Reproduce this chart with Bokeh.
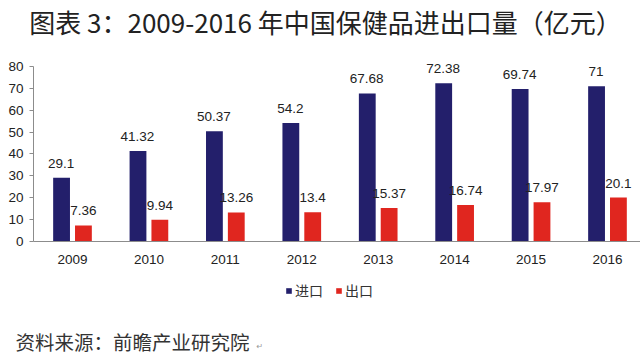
from bokeh.plotting import figure
from bokeh.models import (ColumnDataSource, Range1d, FixedTicker, Label, LabelSet, Legend,
                          LegendItem, LinearAxis)
from bokeh.core.properties import value
from bokeh.transform import dodge
from bokeh.embed import file_html
from bokeh.resources import INLINE

years = [2009, 2010, 2011, 2012, 2013, 2014, 2015, 2016]
imports = [29.1, 41.32, 50.37, 54.2, 67.68, 72.38, 69.74, 71]
exports = [7.36, 9.94, 13.26, 13.4, 15.37, 16.74, 17.97, 20.1]
y_ticks = [0, 10, 20, 30, 40, 50, 60, 70, 80]
title_text = "图表 3：2009-2016 年中国保健品进出口量（亿元）"
source_text = "资料来源：前瞻产业研究院"
series_names = ["进口", "出口"]

NAVY = "#231F6B"
RED = "#E0261F"
AXIS = "#8c8c8c"

src = ColumnDataSource(dict(
    year=years, imp=imports, exp=exports,
    imp_lbl=[f"{v:g}" for v in imports],
    exp_lbl=[f"{v:g}" for v in exports],
))

# the frame covers the whole canvas; axes are pinned inside it
X0, X1 = 2008.058, 2016.432
p = figure(width=640, height=357, output_backend="svg", toolbar_location=None,
           x_range=Range1d(X0, X1), y_range=Range1d(-53.03, 110.17),
           x_axis_location=None, y_axis_location=None,
           min_border_left=0, min_border_right=0, min_border_top=0, min_border_bottom=0)
p.outline_line_color = None
p.xgrid.grid_line_color = None
p.ygrid.grid_line_color = None
p.background_fill_color = "white"
p.border_fill_color = "white"

r1 = p.vbar(x=dodge("year", -0.143), top="imp", width=0.22, source=src, fill_color=NAVY, line_color=None)
r2 = p.vbar(x=dodge("year", 0.143), top="exp", width=0.22, source=src, fill_color=RED, line_color=None)

lbl_style = dict(text_align="center", text_baseline="bottom", text_font=value("Liberation Sans"),
                 text_font_size=value("13.5px"), text_color="#222222", y_offset=10)
p.add_layout(LabelSet(x=dodge("year", -0.15), y="imp", text="imp_lbl", source=src, **lbl_style))
p.add_layout(LabelSet(x=dodge("year", 0.143), y="exp", text="exp_lbl", source=src, **lbl_style))

xaxis = LinearAxis(fixed_location=0, bounds=(2008.49, X1), ticker=FixedTicker(ticks=years),
                   major_tick_line_color=None, minor_tick_line_color=None, axis_line_color=AXIS,
                   major_label_text_font="Liberation Sans", major_label_text_font_size="13.5px",
                   major_label_text_color="#222222", major_label_standoff=8)
p.add_layout(xaxis, "below")

yaxis = LinearAxis(fixed_location=2008.49, bounds=(0, 80), ticker=FixedTicker(ticks=y_ticks),
                   minor_tick_line_color=None, major_tick_out=4, major_tick_in=0,
                   major_tick_line_color=AXIS, axis_line_color=AXIS,
                   major_label_text_font="Liberation Sans", major_label_text_font_size="13.5px",
                   major_label_text_color="#222222", major_label_standoff=6)
p.add_layout(yaxis, "left")

legend = Legend(items=[LegendItem(label=series_names[0], renderers=[r1]),
                       LegendItem(label=series_names[1], renderers=[r2])],
                orientation="horizontal", location=(285, 57),
                glyph_width=7, glyph_height=7, label_height=14, label_standoff=3, spacing=12,
                padding=0, margin=0, border_line_color=None, background_fill_alpha=0,
                label_text_font="Noto Sans CJK SC", label_text_font_size="14px",
                label_text_color="#333333")
p.add_layout(legend, "center")

p.add_layout(Label(x=325, y=336, x_units="screen", y_units="screen", text=title_text,
                   text_align="center", text_baseline="middle",
                   text_font="Noto Sans CJK SC", text_font_size="26px", text_color="#222222"))
p.add_layout(Label(x=15, y=16, x_units="screen", y_units="screen", text=source_text,
                   text_align="left", text_baseline="middle",
                   text_font="Noto Sans CJK SC", text_font_size="19.5px", text_color="#333333"))
p.add_layout(Label(x=256, y=11, x_units="screen", y_units="screen", text="↵",
                   text_align="left", text_baseline="middle",
                   text_font="DejaVu Sans", text_font_size="8px", text_color="#999999"))

open("out.html", "w").write(file_html(p, INLINE))
